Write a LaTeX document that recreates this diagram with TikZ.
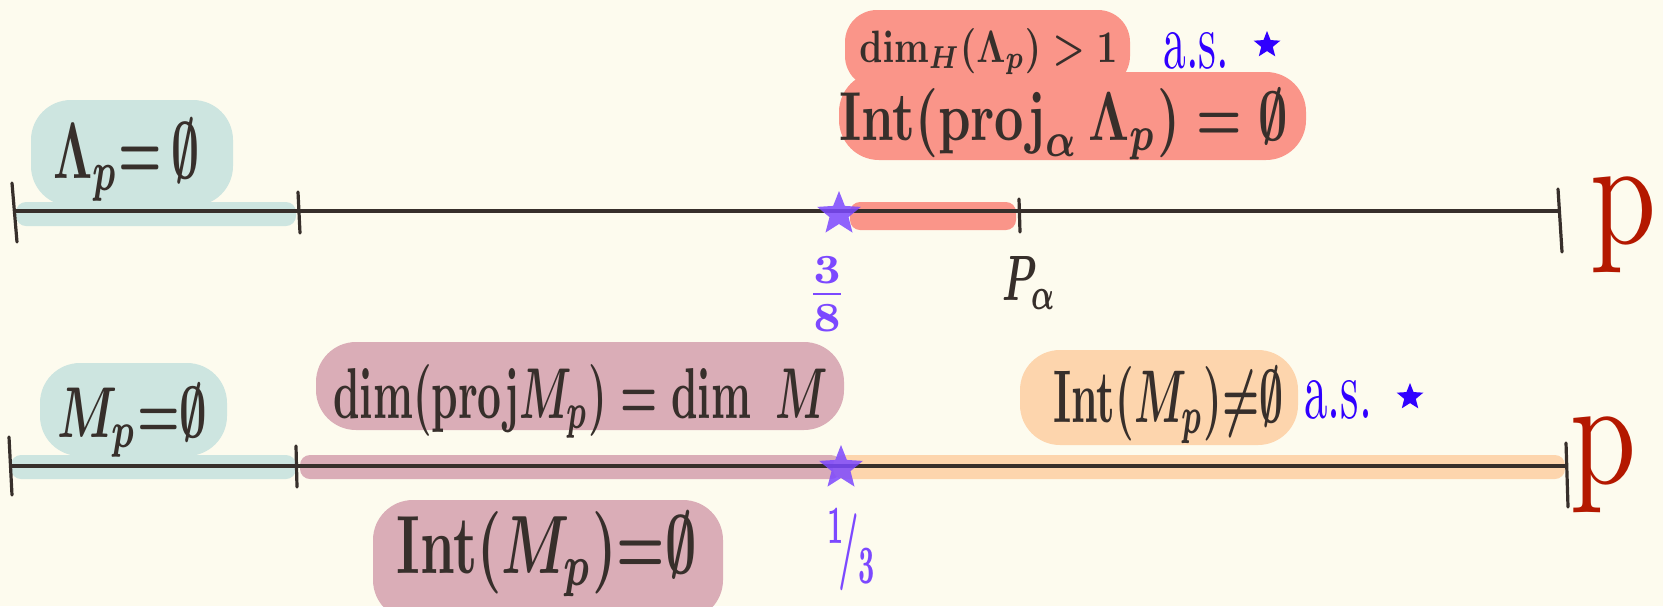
\documentclass[tikz,border=0pt]{standalone}
\usetikzlibrary{shapes.geometric}
\usepackage{graphicx}
\definecolor{bgc}{RGB}{253,251,238}
\definecolor{tealc}{RGB}{205,229,224}
\definecolor{salmonc}{RGB}{250,149,137}
\definecolor{mauvec}{RGB}{218,173,183}
\definecolor{peachc}{RGB}{253,213,173}
\definecolor{purplec}{RGB}{124,72,255}
\definecolor{bluec}{RGB}{48,0,255}
\definecolor{redc}{RGB}{180,24,0}
\definecolor{inkc}{RGB}{55,47,43}
\newcommand{\fitbox}[3]{\resizebox{#1}{#2}{#3}}
\begin{document}
\begin{tikzpicture}[x=0.5pt,y=-0.5pt,
  blob/.style={rounded corners=20pt},
  band/.style={rounded corners=5pt},
  axis/.style={draw=inkc,line width=1.9pt},
  tick/.style={draw=inkc,line width=1.6pt,line cap=round},
  bigstar/.style={star,star points=5,star point ratio=2.3,fill=purplec,opacity=.85,minimum size=23pt,inner sep=0pt},
  smallstar/.style={star,star points=5,star point ratio=2.3,fill=bluec,minimum size=14pt,inner sep=0pt},
  lbl/.style={inner sep=0pt,anchor=base west,text=inkc,font=\boldmath\bfseries},
  aslbl/.style={inner sep=0pt,anchor=base west,text=bluec},
  plbl/.style={inner sep=0pt,text=redc},
  frac/.style={inner sep=0pt,text=purplec,font=\boldmath\bfseries}]
\fill[bgc] (0,0) rectangle (1663,606);
\useasboundingbox (0,0) rectangle (1663,606);

% blobs
\fill[tealc,blob] (31,100) rectangle (233,206);
\fill[salmonc,rounded corners=16pt] (845,10) rectangle (1130,88);
\fill[salmonc,blob] (839,72) rectangle (1306,160);
\fill[tealc,blob] (40,363) rectangle (227,456);
\fill[mauvec,blob] (316,342) rectangle (844,430);
\fill[mauvec,blob] (373,500) rectangle (723,620);
\fill[peachc,blob] (1020,350) rectangle (1298,445);

% bands
\fill[tealc,band] (16,202) rectangle (296,226);
\fill[salmonc,band] (850,202) rectangle (1016,230);
\fill[tealc,band] (11,455) rectangle (296,479);
\fill[mauvec,band] (300,455) rectangle (841,479);
\fill[peachc,band] (833,455) rectangle (1565,479);

% top axis
\coordinate (tl) at (14,211);
\coordinate (tr) at (1560,211);
\draw[axis] (tl) -- (tr);
\coordinate (ta1) at (12,183); \coordinate (ta2) at (17,242);
\coordinate (tb1) at (298,192); \coordinate (tb2) at (300,233);
\coordinate (tc1) at (1019,199); \coordinate (tc2) at (1020,232);
\coordinate (td1) at (1558,189); \coordinate (td2) at (1562,252);
\draw[tick] (ta1) -- (ta2);
\draw[tick] (tb1) -- (tb2);
\draw[tick] (tc1) -- (tc2);
\draw[tick] (td1) -- (td2);

% bottom axis
\coordinate (bl) at (10,466);
\coordinate (br) at (1566,466);
\draw[axis] (bl) -- (br);
\coordinate (ba1) at (9,437); \coordinate (ba2) at (12,495);
\coordinate (bb1) at (296,446); \coordinate (bb2) at (297,487);
\coordinate (bd1) at (1566,443); \coordinate (bd2) at (1568,507);
\draw[tick] (ba1) -- (ba2);
\draw[tick] (bb1) -- (bb2);
\draw[tick] (bd1) -- (bd2);

% stars
\node[bigstar] (s1) at (839,214) {};
\node[bigstar] (s2) at (841,468) {};
\node[smallstar] (as1) at (1267,45) {};
\node[smallstar] (as2) at (1410,397) {};

% labels top
\node[lbl] (lam) at (53,178) {\fitbox{73pt}{30pt}{$\Lambda_p{=}\,\emptyset$}};
\node[lbl] (dimh) at (859,62) {\fitbox{129pt}{17pt}{$\dim_H(\Lambda_p)>1$}};
\node[lbl] (intproj) at (839,140) {\fitbox{224pt}{26pt}{$\mathrm{Int}(\mathrm{proj}_\alpha\,\Lambda_p)=\emptyset$}};
\node[aslbl] (as1t) at (1163,68) {\fitbox{33pt}{18pt}{a.s.}};
\node[lbl] (palpha) at (1002,300) {\fitbox{27pt}{22pt}{$P_\alpha$}};
\node[frac] (f38) at (827,294) {\resizebox*{21pt}{37pt}{$\frac{3}{8}$}};
\node[plbl] (p1) at (1623,225) {\resizebox*{33pt}{48pt}{p}};

% labels bottom
\node[lbl] (mp) at (57,437) {\fitbox{75pt}{27pt}{$M_p{=}\emptyset$}};
\node[lbl] (dimproj) at (333,418) {\fitbox{247pt}{27pt}{$\dim(\mathrm{proj}M_p)=\dim\ M$}};
\node[lbl] (intmp) at (396,573) {\fitbox{150pt}{31pt}{$\mathrm{Int}(M_p){=}\emptyset$}};
\node[lbl] (intne) at (1053,422) {\fitbox{115pt}{28pt}{$\mathrm{Int}(M_p){\neq}\emptyset$}};
\node[aslbl] (as2t) at (1304,418) {\fitbox{34pt}{19pt}{a.s.}};
\node[frac] (f13) at (852,550) {\resizebox*{25pt}{41pt}{$^{1}\!/_{3}$}};
\node[plbl] (p2) at (1603,465) {\resizebox*{33pt}{48pt}{p}};
\end{tikzpicture}
\end{document}
